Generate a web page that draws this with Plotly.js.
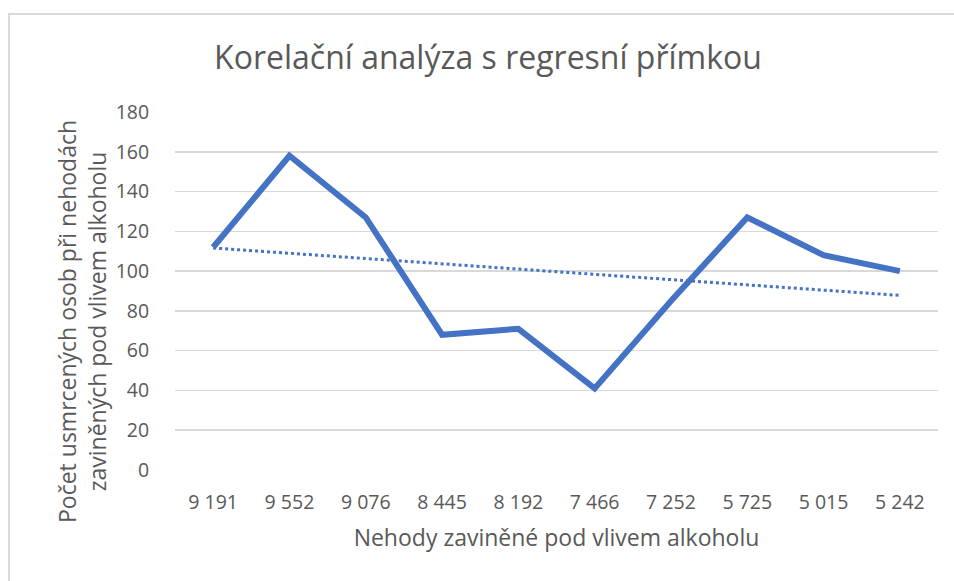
<!DOCTYPE html>
<html><head><meta charset="utf-8">
<script src="https://cdn.plot.ly/plotly-3.0.1.min.js"></script>
<style>html,body{margin:0;padding:0;background:#fff;overflow:hidden}#chart{width:954px;height:581px}</style>
</head><body><div id="chart"></div>
<script>
const categories = ["9 191","9 552","9 076","8 445","8 192","7 466","7 252","5 725","5 015","5 242"];
const deaths = [112,158,127,68,71,41,85,127,108,100];
const yTicks = [0,20,40,60,80,100,120,140,160,180];
const titleText = "Korelační analýza s regresní přímkou";
const xTitle = "Nehody zaviněné pod vlivem alkoholu";
const yTitle = "Počet usmrcených osob při nehodách<br>zaviněných pod vlivem alkoholu";

// linear regression trend (as in Excel's linear trendline over category index)
const n = deaths.length;
const idx = deaths.map((_, i) => i + 1);
const mx = idx.reduce((a,b)=>a+b,0)/n, my = deaths.reduce((a,b)=>a+b,0)/n;
let sxy=0, sxx=0;
for (let i=0;i<n;i++){ sxy += (idx[i]-mx)*(deaths[i]-my); sxx += (idx[i]-mx)**2; }
const slope = sxy/sxx, icpt = my - slope*mx;
const trend = idx.map(x => icpt + slope*x);

const font = "Open Sans, Noto Sans, sans-serif";
const grey = "#595959";
const L = 175, R = 16, T = 112, B = 111, W = 954, H = 581;
const pw = W - L - R, ph = H - T - B;
const px = v => (v - L) / pw;
const py = v => (H - B - v) / ph;

const data = [
  {x: categories, y: deaths, type: "scatter", mode: "lines",
   line: {color: "#4472C4", width: 6}, hoverinfo: "x+y"},
  {x: categories, y: trend, type: "scatter", mode: "lines",
   line: {color: "#4472C4", width: 3, dash: "dot"}, hoverinfo: "skip"}
];
const layout = {
  width: W, height: H,
  margin: {l: L, r: R, t: T, b: B},
  paper_bgcolor: "#fff", plot_bgcolor: "#fff",
  showlegend: false,
  title: {text: titleText, font: {family: font, size: 32, color: grey},
          x: px(488), xref: "paper", xanchor: "center", y: 1 - 58 / H, yanchor: "middle"},
  xaxis: {type: "category", tickvals: categories, ticktext: categories, range: [-0.5, 9.5],
          showgrid: false, zeroline: false, showline: false,
          ticks: "outside", ticklen: 15, tickcolor: "rgba(0,0,0,0)",
          tickfont: {family: font, size: 19.5, color: grey},
          title: {text: xTitle, font: {family: font, size: 23, color: grey}, standoff: 15}},
  yaxis: {range: [0, 180], tickvals: yTicks, ticktext: yTicks.map(String),
          showgrid: true, gridcolor: "#d9d9d9", gridwidth: 1.5, zeroline: false, showline: false,
          ticks: "outside", ticklen: 21, tickcolor: "rgba(0,0,0,0)",
          tickfont: {family: font, size: 19.5, color: grey}},
  annotations: [
    {text: yTitle, xref: "paper", yref: "paper", x: px(82), y: py(322),
     xanchor: "center", yanchor: "middle", textangle: -90, showarrow: false,
     font: {family: font, size: 23, color: grey}}
  ],
  shapes: [
    {type: "rect", xref: "paper", yref: "paper", layer: "below",
     x0: px(9), x1: px(980), y0: py(600), y1: py(14),
     line: {color: "#d9d9d9", width: 2}, fillcolor: "rgba(0,0,0,0)"}
  ]
};
Plotly.newPlot("chart", data, layout, {displayModeBar: false, staticPlot: true});
</script></body></html>
